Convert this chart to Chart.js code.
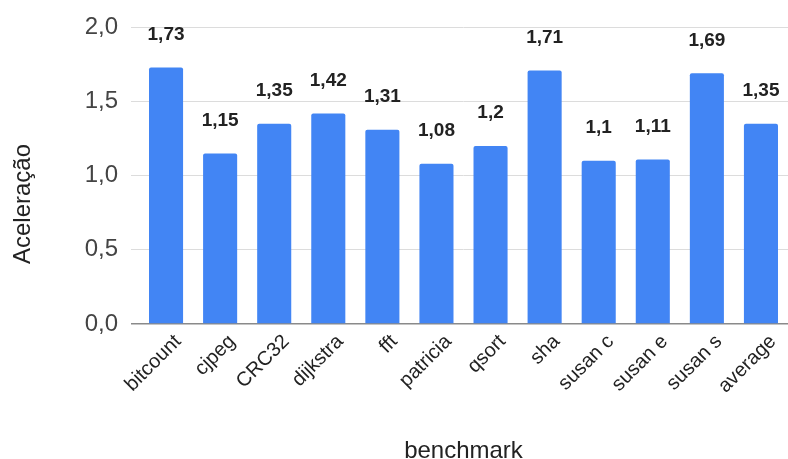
<!DOCTYPE html>
<html>
<head>
<meta charset="utf-8">
<script src="https://cdn.jsdelivr.net/npm/chart.js@4.4.1/dist/chart.umd.min.js"></script>
<style>
  html, body { margin: 0; padding: 0; background: #fff; }
  #wrap { width: 788px; height: 459px; position: relative; }
</style>
</head>
<body>
<div id="wrap"><canvas id="c" width="788" height="459"></canvas></div>
<script>
const categories = ["bitcount", "cjpeg", "CRC32", "dijkstra", "fft", "patricia", "qsort", "sha", "susan c", "susan e", "susan s", "average"];
const speedup = [1.73, 1.15, 1.35, 1.42, 1.31, 1.08, 1.2, 1.71, 1.1, 1.11, 1.69, 1.35];
const yTicks = [0, 0.5, 1.0, 1.5, 2.0];
const xTitle = "benchmark";
const yTitle = "Aceleração";

const FONT = "'Liberation Sans', Arial, sans-serif";
const fmt = v => String(v).replace('.', ',');

const labelPlugin = {
  id: 'valueLabels',
  afterDatasetsDraw(chart) {
    const ctx = chart.ctx;
    const meta = chart.getDatasetMeta(0);
    ctx.save();
    ctx.font = "bold 19px " + FONT;
    ctx.fillStyle = "#222";
    ctx.textAlign = "center";
    ctx.textBaseline = "middle";
    meta.data.forEach((el, i) => {
      ctx.fillText(fmt(speedup[i]), el.x, el.y - 33);
    });
    ctx.restore();
  }
};

const yTitlePlugin = {
  id: 'yTitle',
  afterDraw(chart) {
    const ctx = chart.ctx;
    ctx.save();
    ctx.font = "24px " + FONT;
    ctx.fillStyle = "#222";
    ctx.textAlign = "center";
    ctx.textBaseline = "middle";
    ctx.translate(23, 204);
    ctx.rotate(-Math.PI / 2);
    ctx.fillText(yTitle, 0, 0);
    ctx.restore();
  }
};

new Chart(document.getElementById('c'), {
  type: 'bar',
  data: {
    labels: categories,
    datasets: [{
      data: speedup,
      backgroundColor: '#4285F4',
      borderRadius: { topLeft: 2, topRight: 2 },
      borderSkipped: 'bottom',
      barPercentage: 0.63,
      categoryPercentage: 1.0
    }]
  },
  options: {
    responsive: false,
    animation: false,
    devicePixelRatio: 1,
    layout: { padding: { left: 0, right: 0, top: 25, bottom: 0 } },
    plugins: { legend: { display: false }, tooltip: { enabled: false } },
    scales: {
      x: {
        grid: { display: false, drawTicks: false },
        border: { display: false },
        ticks: {
          color: '#222',
          font: { family: FONT, size: 20 },
          maxRotation: 45, minRotation: 45,
          padding: 6,
          labelOffset: 12,
          autoSkip: false
        },
        title: {
          display: true, text: xTitle, color: '#222',
          font: { family: FONT, size: 24, lineHeight: 1.0 },
          padding: { top: 0, bottom: -4 }
        },
        afterFit: s => { s.height = 459 - 324; }
      },
      y: {
        min: 0, max: 2,
        afterBuildTicks: s => { s.ticks = yTicks.map(v => ({ value: v })); },
        grid: {
          color: c => c.tick && c.tick.value === 0 ? '#8a8a8a' : '#dcdcdc',
          lineWidth: c => c.tick && c.tick.value === 0 ? 1.5 : 1,
          tickLength: 8,
          drawTicks: true
        },
        border: { display: false },
        ticks: {
          color: '#444',
          font: { family: FONT, size: 24 },
          padding: 13,
          callback: v => Number(v).toFixed(1).replace('.', ',')
        },
        title: { display: false },
        afterFit: s => { s.width = 139; }
      }
    }
  },
  plugins: [labelPlugin, yTitlePlugin]
});
</script>
</body>
</html>
